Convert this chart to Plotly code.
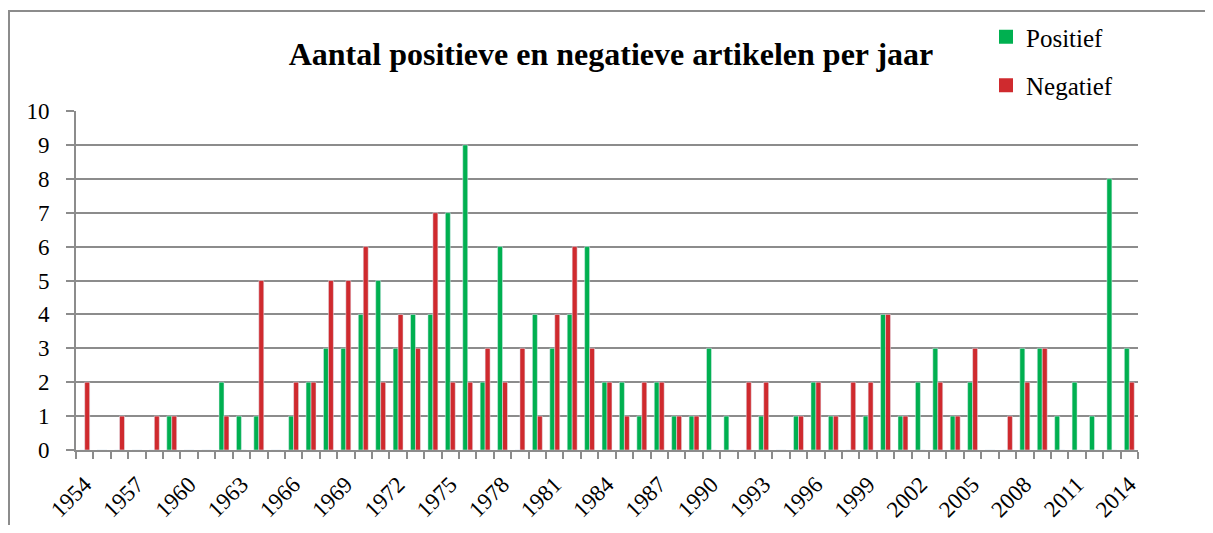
import plotly.graph_objects as go

years = list(range(1954, 2015))
positief = [0, 0, 0, 0, 0, 1, 0, 0, 2, 1,
            1, 0, 1, 2, 3, 3, 4, 5, 3, 4,
            4, 7, 9, 2, 6, 0, 4, 3, 4, 6,
            2, 2, 1, 2, 1, 1, 3, 1, 0, 1,
            0, 1, 2, 1, 0, 1, 4, 1, 2, 3,
            1, 2, 0, 0, 3, 3, 1, 2, 1, 8,
            3]
negatief = [2, 0, 1, 0, 1, 1, 0, 0, 1, 0,
            5, 0, 2, 2, 5, 5, 6, 2, 4, 3,
            7, 2, 2, 3, 2, 3, 1, 4, 6, 3,
            2, 1, 2, 2, 1, 1, 0, 0, 2, 2,
            0, 1, 2, 1, 2, 2, 4, 1, 0, 2,
            1, 3, 0, 1, 2, 3, 0, 0, 0, 0,
            2]
tick_years = [1954, 1957, 1960, 1963, 1966, 1969, 1972, 1975, 1978, 1981, 1984,
              1987, 1990, 1993, 1996, 1999, 2002, 2005, 2008, 2011, 2014]
y_ticks = list(range(0, 11))

GREEN = "#00B050"
RED = "#CF2A2E"
GRID = "#8c8c8c"
FONT = "Liberation Serif"

# The page body has an 8px margin; work in page pixels and convert.
OFF = 8
W, H = 1213 - 2 * OFF, 533 - 2 * OFF
PLOT_L, PLOT_R, PLOT_T, PLOT_B = 76, 1138, 111, 450  # page pixels
L = PLOT_L - OFF
R = W - (PLOT_R - OFF)
T = PLOT_T - OFF
B = H - (PLOT_B - OFF)
pw, ph = W - L - R, H - T - B


def px_x(p):
    return (p - OFF - L) / pw


def px_y(p):
    return (H - B - (p - OFF)) / ph


fig = go.Figure()
fig.add_trace(go.Bar(x=years, y=positief, name="Positief", marker_color=GREEN,
                     showlegend=False))
fig.add_trace(go.Bar(x=years, y=negatief, name="Negatief", marker_color=RED,
                     showlegend=False))
fig.add_trace(go.Scatter(x=[None], y=[None], mode="markers", name="Positief",
                         marker=dict(symbol="square", size=14, color=GREEN),
                         legendgroup="p"))
fig.add_trace(go.Scatter(x=[None], y=[None], mode="markers", name="Negatief",
                         marker=dict(symbol="square", size=14, color=RED),
                         legendgroup="n"))

fig.update_layout(
    width=W, height=H,
    margin=dict(l=L, r=R, t=T, b=B, autoexpand=False),
    paper_bgcolor="white", plot_bgcolor="white",
    barmode="group", bargap=0.43, bargroupgap=0,
    font=dict(family=FONT, color="black", size=23),
    title=dict(text="<b>Aantal positieve en negatieve artikelen per jaar</b>",
               font=dict(family=FONT, size=32, color="black"),
               x=(611 - OFF) / W, xanchor="center",
               y=1 - (54 - OFF) / H, yanchor="middle",
               xref="container", yref="container"),
    legend=dict(x=px_x(986), xanchor="left", y=px_y(14), yanchor="top",
                font=dict(family=FONT, size=25, color="black"),
                traceorder="grouped", tracegroupgap=13,
                bgcolor="rgba(0,0,0,0)", itemwidth=30),
    xaxis=dict(range=[1953.5, 2014.5], tickmode="array", tickvals=tick_years,
               ticktext=[str(t) for t in tick_years], tickangle=-45,
               ticks="outside", ticklen=10, tickcolor="rgba(0,0,0,0)",
               showgrid=False, showline=True, linecolor=GRID, linewidth=2,
               zeroline=False,
               minor=dict(ticks="outside", tickmode="linear", tick0=1953.5, dtick=1,
                          ticklen=7, tickwidth=2, tickcolor=GRID, showgrid=False),
               tickfont=dict(family=FONT, size=23, color="black")),
    yaxis=dict(range=[0, 10], tickmode="array", tickvals=y_ticks,
               ticks="outside", ticklen=8, tickwidth=2, tickcolor=GRID,
               showgrid=True, gridcolor=GRID, gridwidth=2,
               showline=True, linecolor=GRID, linewidth=2, zeroline=False,
               ticklabelstandoff=12,
               tickfont=dict(family=FONT, size=23, color="black")),
    shapes=[dict(type="rect", xref="paper", yref="paper",
                 x0=px_x(9), x1=px_x(1240), y0=px_y(560), y1=px_y(11),
                 line=dict(color=GRID, width=2), fillcolor="rgba(0,0,0,0)",
                 layer="below")],
)

fig.write_html("out.html")
